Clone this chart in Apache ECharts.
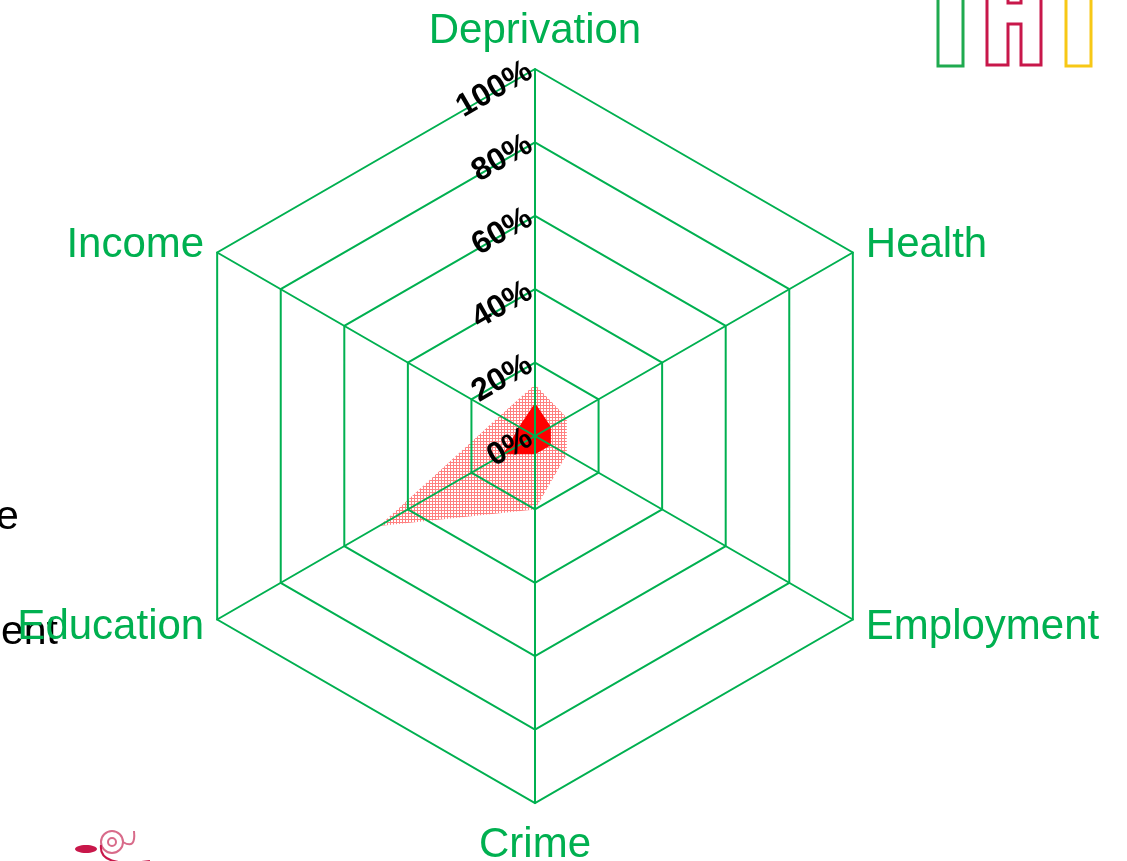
<!DOCTYPE html>
<html>
<head>
<meta charset="utf-8">
<script src="https://cdn.jsdelivr.net/npm/echarts@6/dist/echarts.min.js"></script>
<style>
  html, body { margin: 0; padding: 0; background: #fff; }
  #myChart { width: 1127px; height: 861px; }
</style>
</head>
<body>
<div id="myChart"></div>
<script>
// indicators, counter-clockwise from the top
var indicatorNames = ["Deprivation", "Income", "Education", "Crime", "Employment", "Health"];
var tickLabels = ["0%", "20%", "40%", "60%", "80%", "100%"];
// values in percent
var outerValues = [14, 11, 49, 20, 10, 10];
var innerValues = [9, 5, 10, 5, 5, 5];

var green = "#00B050";

// fine pink mesh for the outer area
function meshPattern() {
  var c = document.createElement("canvas");
  c.width = 3; c.height = 3;
  var ctx = c.getContext("2d");
  ctx.fillStyle = "rgba(255,60,60,0.65)";
  ctx.fillRect(0, 0, 3, 1);
  ctx.fillRect(0, 1, 1, 2);
  return c;
}

var indicators = indicatorNames.map(function (n, i) {
  var ind = { name: n, max: 100, min: 0 };
  if (i === 0) {
    ind.axisLabel = {
      show: true,
      rotate: 30,
      fontSize: 32,
      fontWeight: "bold",
      fontFamily: "Liberation Sans",
      color: "#000",
      margin: 5,
      formatter: function (v) { return tickLabels[Math.round(v / 20)]; }
    };
  }
  return ind;
});

var myChart = echarts.init(document.getElementById("myChart"));
var option = {
  animation: false,
  radar: {
    z: 5,
    center: [535, 436],
    radius: 367,
    shape: "polygon",
    splitNumber: 5,
    startAngle: 90,
    indicator: indicators,
    axisName: {
      color: green,
      fontSize: 42,
      fontFamily: "Liberation Sans",
      padding: [6, 0, 2, 0]
    },
    nameGap: 15,
    axisLine: { lineStyle: { color: green, width: 2 } },
    splitLine: { lineStyle: { color: green, width: 2 } },
    splitArea: { show: false },
    axisTick: { show: false },
    axisLabel: { show: false }
  },
  series: [{
    type: "radar",
    z: 1,
    symbol: "none",
    data: [
      {
        value: outerValues,
        lineStyle: { width: 0, opacity: 0 },
        areaStyle: { color: { image: meshPattern(), repeat: "repeat" }, opacity: 1 }
      },
      {
        value: innerValues,
        lineStyle: { width: 0, opacity: 0 },
        areaStyle: { color: "#FF0000", opacity: 1 }
      }
    ]
  }],
  graphic: [
    // clipped slide text at the left edge
    { type: "text", left: -4, top: 497, style: { text: "e", font: "41px Liberation Sans", fill: "#000" } },
    { type: "text", right: 1069, top: 612, style: { text: "ent", font: "41px Liberation Sans", fill: "#000" } },
    // logo fragments top right
    { type: "rect", shape: { x: 938, y: -10, width: 25, height: 76 }, style: { fill: "none", stroke: "#1FAA4F", lineWidth: 3 } },
    { type: "polyline", shape: { points: [[987, -10], [987, 65], [1008, 65], [1008, 24], [1021, 24], [1021, 65], [1041, 65], [1041, -10]] }, style: { fill: "none", stroke: "#C8174A", lineWidth: 3 } },
    { type: "polyline", shape: { points: [[1008, -10], [1008, 3], [1021, 3], [1021, -10]] }, style: { fill: "none", stroke: "#C8174A", lineWidth: 3 } },
    { type: "rect", shape: { x: 1066, y: -10, width: 25, height: 76 }, style: { fill: "none", stroke: "#F7C816", lineWidth: 3 } },
    // swirl logo bottom left
    { type: "circle", shape: { cx: 112, cy: 842, r: 11 }, style: { fill: "none", stroke: "#D86B8A", lineWidth: 2 } },
    { type: "circle", shape: { cx: 112, cy: 842, r: 4 }, style: { fill: "none", stroke: "#D86B8A", lineWidth: 2 } },
    { type: "bezierCurve", shape: { x1: 101, y1: 845, x2: 150, y2: 861, cpx1: 98, cpy1: 868 }, style: { fill: "none", stroke: "#C8174A", lineWidth: 2 } },
    { type: "bezierCurve", shape: { x1: 123, y1: 842, x2: 134, y2: 831, cpx1: 136, cpy1: 850 }, style: { fill: "none", stroke: "#D86B8A", lineWidth: 2 } },
    { type: "ellipse", shape: { cx: 86, cy: 849, rx: 11, ry: 4 }, style: { fill: "#C8174A" } }
  ]
};
myChart.setOption(option);
window.onresize = myChart.resize;
</script>
</body>
</html>
